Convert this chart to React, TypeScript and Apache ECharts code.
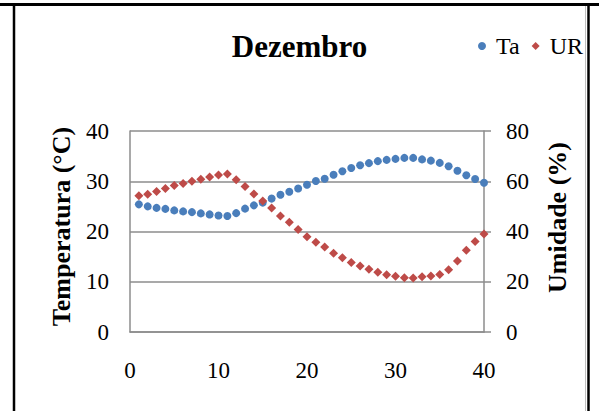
import React, { useEffect, useRef } from "react";
import * as echarts from "echarts";

const days = [1,2,3,4,5,6,7,8,9,10,11,12,13,14,15,16,17,18,19,20,21,22,23,24,25,26,27,28,29,30,31,32,33,34,35,36,37,38,39,40];
const ta = [25.4,25.0,24.7,24.5,24.2,24.0,23.85,23.6,23.4,23.2,23.1,23.65,24.55,25.2,25.75,26.55,27.3,27.9,28.55,29.3,30.05,30.5,31.3,32.0,32.65,33.2,33.6,34.0,34.25,34.45,34.65,34.65,34.35,34.1,33.65,33.0,32.1,31.2,30.45,29.7];
const ur = [54.25,54.8,55.9,57.1,58.3,59.15,60.0,60.8,61.65,62.5,62.9,60.6,57.95,54.95,52.15,49.35,46.15,43.65,40.75,37.95,35.7,33.85,31.35,29.6,27.65,26.25,24.95,23.75,22.75,22.2,21.6,21.45,22.0,22.25,22.9,24.8,28.3,32.55,36.05,39.05];
const titleText = "Dezembro";
const seriesNames = ["Ta", "UR"];
const leftAxisName = "Temperatura (°C)";
const rightAxisName = "Umidade (%)";

const FONT = "'Liberation Serif', 'Times New Roman', serif";
const GRID = "#8c8c8c";

export default function App() {
  const ref = useRef<HTMLDivElement>(null);
  useEffect(() => {
    const chart = echarts.init(ref.current!, null, { renderer: "svg" });
    chart.setOption({
      animation: false,
      backgroundColor: "#fff",
      textStyle: { fontFamily: FONT, color: "#000" },
      title: {
        text: titleText,
        left: "center",
        top: 26,
        textStyle: { fontFamily: FONT, fontSize: 31, fontWeight: "bold", color: "#000" },
      },
      legend: {
        left: 473,
        top: 29,
        itemWidth: 8,
        itemHeight: 8,
        itemGap: 12,
        textStyle: { fontFamily: FONT, fontSize: 24, color: "#000", padding: [0, 0, 0, 5] },
        data: [
          { name: seriesNames[0], icon: "circle" },
          { name: seriesNames[1], icon: "diamond" },
        ],
      },
      grid: { left: 130, right: 115, top: 131, bottom: 79 },
      xAxis: {
        type: "value",
        min: 0,
        max: 40,
        interval: 10,
        axisLine: { show: true, lineStyle: { color: GRID, width: 1.5 } },
        axisTick: { show: false },
        splitLine: { show: false },
        axisLabel: { fontFamily: FONT, fontSize: 23, color: "#000", margin: 27 },
      },
      yAxis: [
        {
          type: "value",
          min: 0,
          max: 40,
          interval: 10,
          name: leftAxisName,
          nameLocation: "middle",
          nameGap: 56,
          nameTextStyle: { fontFamily: FONT, fontSize: 26, fontWeight: "bold", color: "#000", padding: [0, 0, 0, 10] },
          axisLine: { show: true, lineStyle: { color: GRID, width: 1.5 } },
          axisTick: { show: false },
          splitLine: { show: true, lineStyle: { color: GRID, width: 1.5 } },
          axisLabel: { fontFamily: FONT, fontSize: 23, color: "#000", margin: 21 },
        },
        {
          type: "value",
          position: "right",
          min: 0,
          max: 80,
          interval: 20,
          name: rightAxisName,
          nameLocation: "middle",
          nameGap: 60,
          nameTextStyle: { fontFamily: FONT, fontSize: 26, fontWeight: "bold", color: "#000", padding: [0, 0, 0, 28] },
          axisLine: { show: true, lineStyle: { color: GRID, width: 1.5 } },
          axisTick: { show: true, length: 7, lineStyle: { color: GRID, width: 1.5 } },
          splitLine: { show: false },
          axisLabel: { fontFamily: FONT, fontSize: 23, color: "#000", margin: 22 },
        },
      ],
      series: [
        {
          name: seriesNames[0],
          type: "scatter",
          yAxisIndex: 0,
          symbol: "circle",
          symbolSize: 8,
          itemStyle: { color: "#4a7ebb", opacity: 1 },
          data: days.map((d, i) => [d, ta[i]]),
        },
        {
          name: seriesNames[1],
          type: "scatter",
          yAxisIndex: 1,
          symbol: "diamond",
          symbolSize: 9,
          itemStyle: { color: "#be4b48", opacity: 1 },
          data: days.map((d, i) => [d, ur[i]]),
        },
      ],
      graphic: [
        { type: "line", shape: { x1: 0, y1: 4.5, x2: 599, y2: 4.5 }, style: { stroke: "#000", lineWidth: 3 } },
        { type: "line", shape: { x1: 14, y1: 3, x2: 14, y2: 411 }, style: { stroke: "#000", lineWidth: 2.5 } },
        { type: "line", shape: { x1: 585.5, y1: 6, x2: 585.5, y2: 411 }, style: { stroke: "#bfbfbf", lineWidth: 1 } },
        { type: "line", shape: { x1: 588.5, y1: 3, x2: 588.5, y2: 411 }, style: { stroke: "#000", lineWidth: 2.5 } },
      ],
    });
    return () => chart.dispose();
  }, []);
  return (
    <div
      ref={ref}
      style={{ position: "fixed", left: 0, top: 0, width: 599, height: 411 }}
    />
  );
}
